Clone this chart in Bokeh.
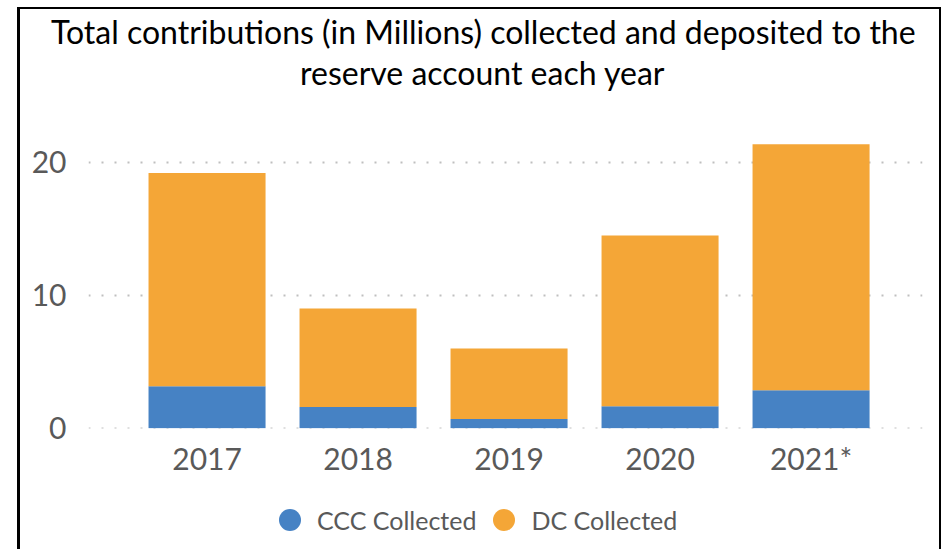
from bokeh.plotting import figure
from bokeh.layouts import column
from bokeh.models import (Range1d, Legend, LegendItem, ColumnDataSource, FixedTicker, Title)
from bokeh.embed import file_html
from bokeh.resources import INLINE

years = ["2017", "2018", "2019", "2020", "2021*"]
ccc = [3.15, 1.6, 0.7, 1.65, 2.85]
dc = [16.05, 7.4, 5.3, 12.85, 18.5]
y_ticks = [0, 10, 20]
title_lines = ["Total contributions (in Millions) collected and deposited to the",
               "reserve account each year"]
series_names = ["CCC Collected", "DC Collected"]

BLUE = "#4682C4"
ORANGE = "#F4A637"
TXT = "#595959"
FONT = "Lato"

idx = list(range(len(years)))
src = ColumnDataSource(dict(x=idx, ccc=ccc, dc=dc))

p = figure(width=919, height=480, output_backend="svg", toolbar_location=None,
           x_range=Range1d(-0.785, 4.738), y_range=Range1d(-0.02, 25.32),
           min_border_left=68, min_border_right=17, min_border_top=77,
           min_border_bottom=61)

p.title.text = ""
offsets = [-37.5, 211.5]
for t, off in reversed(list(zip(title_lines, offsets))):
    p.add_layout(Title(text=t, align="left", text_font=FONT, text_font_size="32px",
                       text_font_style="normal", text_color="#000000",
                       standoff=0, offset=off), "above")

p.vbar_stack(["ccc", "dc"], x="x", width=0.775, color=[BLUE, ORANGE],
             source=src, line_width=0)

p.outline_line_color = None
p.xgrid.grid_line_color = None
p.ygrid.grid_line_color = "#BFBFBF"
p.ygrid.grid_line_dash = "2 11"
p.ygrid.grid_line_width = 2
p.ygrid.ticker = FixedTicker(ticks=y_ticks)

p.xaxis.ticker = FixedTicker(ticks=idx)
p.xaxis.major_label_overrides = {i: y for i, y in enumerate(years)}
p.yaxis.ticker = FixedTicker(ticks=y_ticks)
for ax in (p.xaxis, p.yaxis):
    ax.axis_line_color = None
    ax.major_tick_line_color = None
    ax.minor_tick_line_color = None
    ax.major_label_text_font = FONT
    ax.major_label_text_font_size = "30px"
    ax.major_label_text_color = TXT
p.xaxis.major_label_standoff = 5
p.yaxis.major_label_standoff = 16

# legend strip (circle markers are hidden with size 0; the legend draws its own symbol)
lf = figure(width=919, height=60, output_backend="svg", toolbar_location=None,
            x_axis_type=None, y_axis_type=None, x_range=Range1d(0, 1), y_range=Range1d(0, 1),
            min_border_left=0, min_border_right=0, min_border_top=0, min_border_bottom=0)
lf.outline_line_color = None
r1 = lf.scatter(x="x", y="ccc", source=src, marker="circle", size=0,
                fill_color=BLUE, line_color=None)
r2 = lf.scatter(x="x", y="dc", source=src, marker="circle", size=0,
                fill_color=ORANGE, line_color=None)
legend = Legend(items=[LegendItem(label=series_names[0], renderers=[r1]),
                       LegendItem(label=series_names[1], renderers=[r2])],
                orientation="horizontal", location=(174, 2),
                label_text_font=FONT, label_text_font_size="25px",
                label_text_color=TXT, glyph_width=55, glyph_height=55,
                label_standoff=0, spacing=0, border_line_color=None,
                background_fill_alpha=0, padding=0, margin=0)
lf.add_layout(legend)

layout = column(p, lf, spacing=0,
                styles={"margin-left": "17px", "margin-top": "7px",
                        "border-left": "3px solid #000000",
                        "border-top": "2px solid #000000",
                        "border-right": "2px solid #000000"})

open("out.html", "w").write(file_html(layout, INLINE))
